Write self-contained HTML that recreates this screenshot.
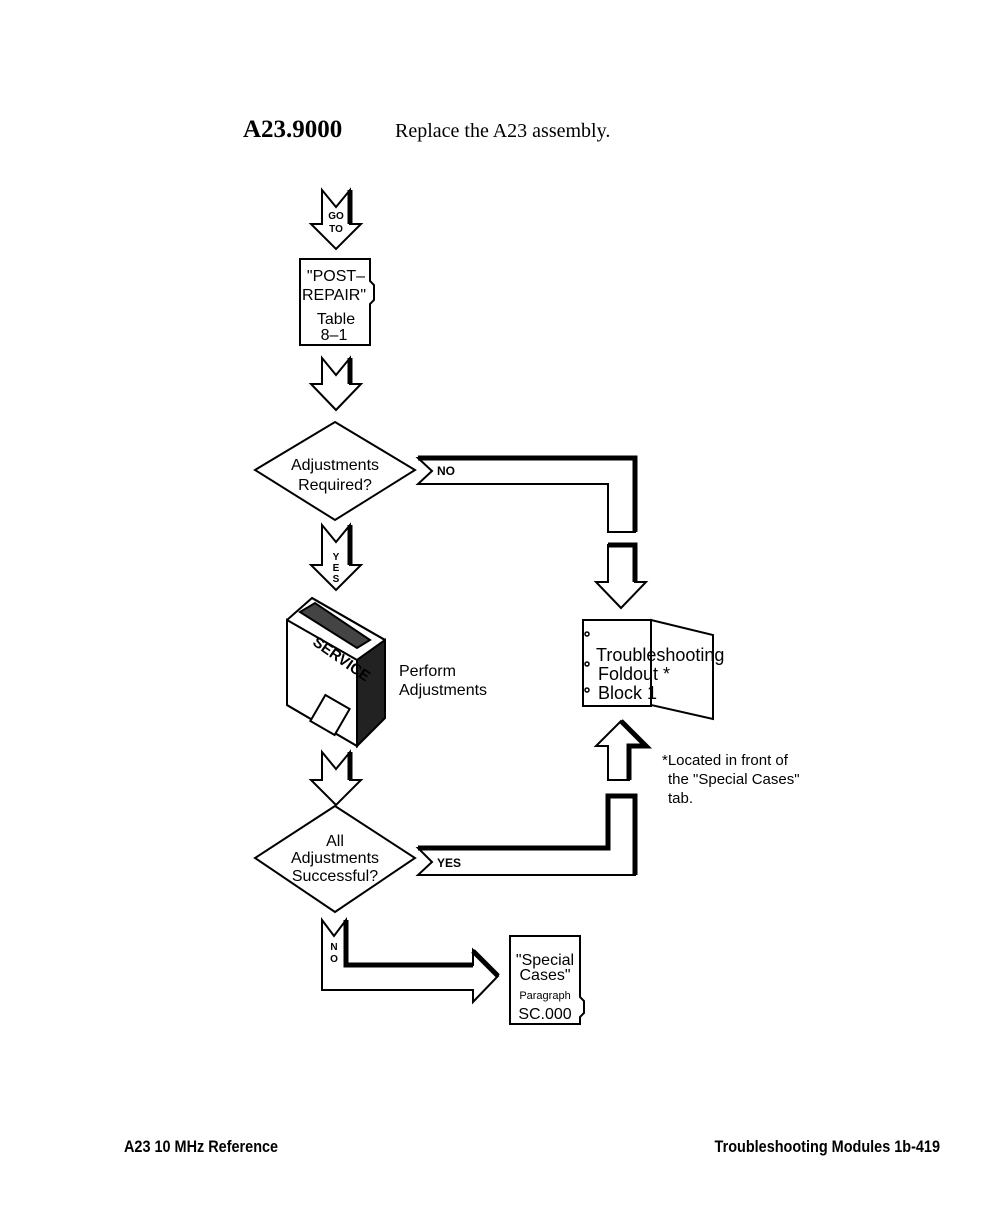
<!DOCTYPE html>
<html><head><meta charset="utf-8"><style>
body{margin:0;background:#fff;width:1008px;height:1224px;overflow:hidden}
svg text{font-family:"Liberation Sans",sans-serif;fill:#000}
</style></head><body>
<svg width="1008" height="1224" viewBox="0 0 1008 1224" xmlns="http://www.w3.org/2000/svg">
<text x="243" y="137" style="font-family:'Liberation Serif',serif;font-weight:bold;font-size:25px">A23.9000</text>
<text x="395" y="137" style="font-family:'Liberation Serif',serif;font-size:20px">Replace the A23 assembly.</text>

<g fill="#fff" stroke="#000" stroke-width="2" stroke-linejoin="miter">
<!-- arrow 1 -->
<polygon points="322,190 336,207 350,190 350,224 361,224 336,249 311,224 322,224"/>
<line x1="350" y1="190" x2="350" y2="224" stroke-width="5"/>
<!-- box post repair -->
<polygon points="300,259 370,259 370,281 374,285 374,300 370,304 370,345 300,345"/>
<!-- arrow 2 -->
<polygon points="322,358 336,375 350,358 350,384 361,384 336,410 311,384 322,384"/>
<line x1="350" y1="358" x2="350" y2="384" stroke-width="5"/>
<!-- diamond 1 -->
<polygon points="335,422 415,470 335,520 255,470"/>
<!-- NO connector -->
<polygon points="418,458 635,458 635,532 608,532 608,484 418,484 432,471"/>
<polyline points="418,458 635,458 635,532" fill="none" stroke-width="5"/>
<!-- arrow down right -->
<polygon points="608,545 635,545 635,582 646,582 621,608 596,582 608,582"/>
<polyline points="608,545 635,545 635,582" fill="none" stroke-width="5"/>
<!-- arrow 3 yes -->
<polygon points="322,525 336,542 350,525 350,565 361,565 336,590 311,565 322,565"/>
<line x1="350" y1="525" x2="350" y2="565" stroke-width="5"/>
<!-- foldout -->
<rect x="583" y="620" width="68" height="86"/>
<polygon points="651,620 713,635 713,719 651,705"/>
<line x1="651" y1="620" x2="651" y2="640"/>
<!-- book -->
<polygon points="287,620 312,598 385,640 385,718 357,746 287,705"/>
<polygon points="287,620 357,660 357,746 287,705"/>
<line x1="312" y1="598" x2="385" y2="640"/>
<polygon points="357,660 385,640 385,718 357,746" fill="#222"/>
<polygon points="300,612 315,603 370,640 357,648" fill="#444"/>
<rect x="316" y="700" width="28" height="30" transform="rotate(30 330 715)" fill="#fff"/>
<!-- arrow 4 -->
<polygon points="322,752 336,769 350,752 350,780 361,780 336,805 311,780 322,780"/>
<line x1="350" y1="752" x2="350" y2="780" stroke-width="5"/>
<!-- diamond 2 -->
<polygon points="335,806 415,858 335,912 255,858"/>
<!-- YES connector -->
<polygon points="418,848 608,848 608,796 635,796 635,875 418,875 432,862"/>
<polyline points="418,848 608,848 608,796 635,796 635,875" fill="none" stroke-width="5"/>
<!-- up arrow -->
<polygon points="608,780 629,780 629,746 646,746 621,721 596,746 608,746"/>
<polyline points="621,721 646,746 629,746 629,780" fill="none" stroke-width="5"/>
<!-- NO bottom arrow -->
<polygon points="322,920 334,936 346,920 346,965 473,965 473,950 498,976 473,1002 473,990 322,990"/>
<polyline points="346,920 346,965 473,965" fill="none" stroke-width="5"/>
<line x1="473" y1="951" x2="498" y2="976" stroke-width="5"/>
<!-- special cases box -->
<polygon points="510,936 580,936 580,997 584,1001 584,1013 580,1017 580,1024 510,1024"/>
</g>
<g fill="#fff" stroke="#000" stroke-width="1.5">
<circle cx="587" cy="634" r="2"/><circle cx="587" cy="664" r="2"/><circle cx="587" cy="690" r="2"/>
</g>

<g font-size="16" text-anchor="middle">
<text x="336" y="281">"POST–</text>
<text x="334" y="300">REPAIR"</text>
<text x="336" y="324">Table</text>
<text x="334" y="340">8–1</text>
<text x="335" y="470">Adjustments</text>
<text x="335" y="490">Required?</text>
<text x="335" y="846">All</text>
<text x="335" y="863">Adjustments</text>
<text x="335" y="881">Successful?</text>
<text x="545" y="965">"Special</text>
<text x="545" y="980">Cases"</text>
<text x="545" y="1019">SC.000</text>
</g>
<text x="545" y="999" font-size="11" text-anchor="middle">Paragraph</text>
<g font-size="10" font-weight="bold" text-anchor="middle">
<text x="336" y="219">GO</text><text x="336" y="232">TO</text>
<text x="336" y="560">Y</text><text x="336" y="571">E</text><text x="336" y="582">S</text>
<text x="334" y="950">N</text><text x="334" y="962">O</text>
</g>
<text x="437" y="475" font-size="12" font-weight="bold">NO</text>
<text x="437" y="867" font-size="12" font-weight="bold">YES</text>
<text x="310" y="650" font-size="15" font-weight="bold" transform="rotate(35 320 650)">SERVICE</text>
<g font-size="16">
<text x="399" y="676">Perform</text>
<text x="399" y="695">Adjustments</text>
</g>
<g font-size="18">
<text x="596" y="661">Troubleshooting</text>
<text x="598" y="680">Foldout  *</text>
<text x="598" y="699">Block  1</text>
</g>
<g font-size="15">
<text x="662" y="765">*Located  in  front  of</text>
<text x="668" y="784">the  "Special  Cases"</text>
<text x="668" y="803">tab.</text>
</g>
<text x="124" y="1152" font-size="17" font-weight="bold" transform="scale(0.85 1)" transform-origin="124 1152">A23 10 MHz Reference</text>
<text x="940" y="1152" font-size="17" font-weight="bold" text-anchor="end" transform="scale(0.85 1)" transform-origin="940 1152">Troubleshooting Modules    1b-419</text>
</svg>
</body></html>
